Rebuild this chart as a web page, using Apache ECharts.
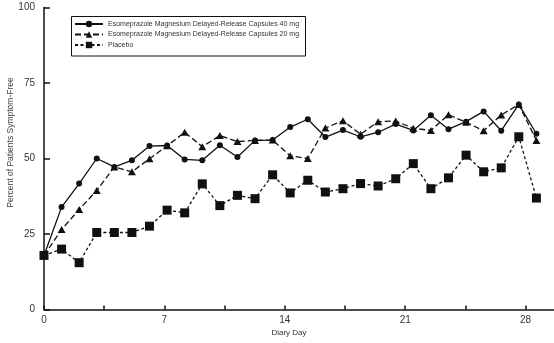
<!DOCTYPE html>
<html><head><meta charset="utf-8">
<script src="https://cdn.jsdelivr.net/npm/echarts@6/dist/echarts.min.js"></script>
<style>html,body{margin:0;padding:0;background:#fff}#c{width:554px;height:343px}</style>
</head><body><div id="c"></div>
<script>
const days = [0,1,2,3,4,5,6,7,8,9,10,11,12,13,14,15,16,17,18,19,20,21,22,23,24,25,26,27,28];
const esome40 = [17.9,33.9,41.7,50.0,47.2,49.4,54.1,54.3,49.7,49.4,54.4,50.5,56.0,56.1,60.4,63.0,57.1,59.4,57.2,58.7,61.4,59.3,64.3,59.7,62.2,65.6,59.2,67.9,58.2];
const esome20 = [17.9,26.5,33.1,39.4,47.2,45.6,49.9,54.2,58.7,53.9,57.6,55.6,56.0,56.1,50.9,50.0,60.1,62.5,58.0,62.2,62.4,60.0,59.3,64.5,62.0,59.2,64.4,67.9,56.0];
const placebo = [17.9,20.0,15.5,25.5,25.5,25.5,27.6,32.9,32.0,41.6,34.4,37.8,36.7,44.6,38.6,42.8,38.9,40.0,41.7,40.9,43.3,48.3,40.0,43.6,51.1,45.6,46.9,57.2,36.9];
const xTickLabels = [0,7,14,21,28];
const yTickLabels = [0,25,50,75,100];
const seriesNames = [
  'Esomeprazole Magnesium Delayed-Release Capsules 40 mg',
  'Esomeprazole Magnesium Delayed-Release Capsules 20 mg',
  'Placebo'
];

const FONT = '"Liberation Sans", Arial, sans-serif';
const INK = '#111';
const chart = echarts.init(document.getElementById('c'), null, {renderer:'canvas'});
const pairs = arr => days.map((d,i)=>[d, arr[i]]);

chart.setOption({
  animation:false,
  backgroundColor:'#fff',
  grid:{left:44, right:0, top:7.5, bottom:33.5, containLabel:false, outerBoundsMode:'none'},
  xAxis:[{
    type:'value', min:0, max:29.65, interval:3.5,
    axisLine:{lineStyle:{color:INK, width:1.5}},
    axisTick:{inside:true, length:4, lineStyle:{color:INK, width:1.5}},
    axisLabel:{margin:5.5, fontSize:10, color:'#333', fontFamily:FONT,
      formatter:v => xTickLabels.indexOf(v) >= 0 ? String(v) : '',
      showMaxLabel:false},
    splitLine:{show:false},
    name:'Diary Day', nameLocation:'middle', nameGap:19.5, nameMoveOverlap:false,
    nameTextStyle:{fontSize:8, color:'#333', fontFamily:FONT, padding:[0,20,0,0]}
  },{
    type:'value', min:0, max:29, show:false
  }],
  yAxis:{
    type:'value', min:0, max:100, interval:25,
    axisLine:{show:true, lineStyle:{color:INK, width:1.5}},
    axisTick:{show:true, inside:true, length:6, lineStyle:{color:INK, width:1.5}},
    axisLabel:{margin:9, fontSize:10, color:'#333', fontFamily:FONT,
      formatter:v => yTickLabels.indexOf(v) >= 0 ? String(v) : ''},
    splitLine:{show:false},
    name:'Percent of Patients Symptom-Free', nameLocation:'middle', nameGap:29, nameMoveOverlap:false,
    nameTextStyle:{fontSize:8.5, color:'#444', fontFamily:FONT, padding:[0,0,0,32]}
  },
  legend:{
    data:seriesNames, orient:'vertical', left:74, top:20.5,
    itemWidth:28, itemHeight:8, itemGap:3.5, padding:0,
    textStyle:{fontSize:7, color:'#333', fontFamily:FONT}
  },
  graphic:[{
    type:'rect', silent:true,
    shape:{x:71.5, y:16.5, width:234, height:39.5},
    style:{fill:'none', stroke:INK, lineWidth:1}
  }],
  series:[
    {name:seriesNames[1], type:'line', xAxisIndex:1, data:pairs(esome20), z:2,
     symbol:'triangle', symbolSize:[8,7],
     lineStyle:{color:INK, width:1.3, type:[6,3]}, itemStyle:{color:INK}},
    {name:seriesNames[0], type:'line', xAxisIndex:1, data:pairs(esome40), z:3,
     symbol:'circle', symbolSize:6,
     lineStyle:{color:INK, width:1.3, type:'solid'}, itemStyle:{color:INK}},
    {name:seriesNames[2], type:'line', xAxisIndex:1, data:pairs(placebo), z:4,
     symbol:'rect', symbolSize:9,
     lineStyle:{color:INK, width:1.3, type:[3,2.5]}, itemStyle:{color:INK}}
  ]
});
</script></body></html>
